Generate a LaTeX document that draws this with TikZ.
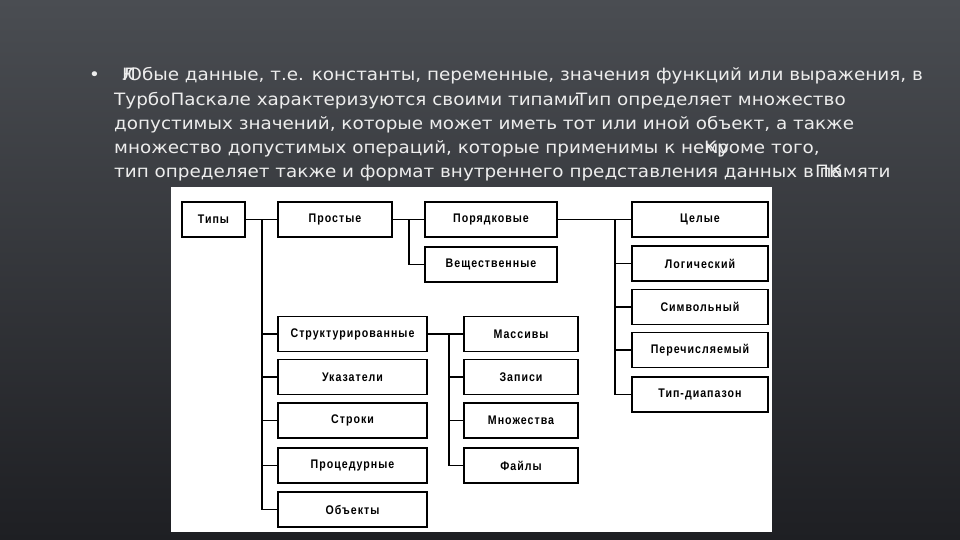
\documentclass[tikz,border=0pt]{standalone}
\usepackage{fontspec}
\usepackage{xcolor}
\usepackage{tikz}
\usetikzlibrary{positioning}
\newfontfamily\slidefont{DejaVu Sans}[FakeStretch=1.08]
\newfontfamily\boxfont{Liberation Sans}[FakeStretch=0.85,LetterSpace=8]
\definecolor{slidetop}{HTML}{4A4D52}
\definecolor{slidemid}{HTML}{33353A}
\definecolor{slidebot}{HTML}{1E1F23}
\definecolor{slidetext}{HTML}{EDEDED}

\begin{document}
\begin{tikzpicture}[
  x=1pt, y=-1pt,
  typebox/.style={draw=black, line width=1.3pt, fill=white, inner sep=0pt,
                  minimum height=35pt, font=\boxfont\bfseries\fontsize{12.5}{14}\selectfont},
  conn/.style={draw=black, line width=1.3pt},
  textline/.style={anchor=base west, inner sep=0pt, text=slidetext,
                   font=\slidefont\fontsize{17}{20}\selectfont}
]
\useasboundingbox (0,0) rectangle (960,540);
\shade[top color=slidetop, middle color=slidemid, bottom color=slidebot] (0,0) rectangle (960,540);

% slide text
\node[textline] (bul) at (89,81) {•};
\node[textline] (l1) at (122,81) {\rlap{Л}Юбые данные, т.е. константы, переменные, значения функций или выражения, в};
\node[textline] (l2) at (114,105.5) {ТурбоПаскале характеризуются своими типами};
\node[textline] (l2b) at (576,105.5) {Тип определяет множество};
\node[textline] (l3) at (114,130) {допустимых значений, которые может иметь тот или иной объект, а также};
\node[textline] (l4) at (114,154) {множество допустимых операций, которые применимы к нему};
\node[textline] (l4b) at (704,154) {Кроме того,};
\node[textline] (l5) at (114,178) {тип определяет также и формат внутреннего представления данных в памяти};
\node[textline] (l5b) at (815,178) {ПК};

% white panel
\fill[white] (171,187) rectangle (772,532);

% boxes
\node[typebox, minimum width=63pt] (tipy) at (213.5,219.5) {Типы};
\node[typebox, minimum width=114pt] (prost) at (335,219.5) {Простые};
\node[typebox, minimum width=132pt] (poryad) at (491,219.5) {Порядковые};
\node[typebox, minimum width=132pt] (vesch) at (491,264.5) {Вещественные};
\node[typebox, minimum width=136pt] (celye) at (700,219.5) {Целые};
\node[typebox, minimum width=136pt] (logich) at (700,263.5) {Логический};
\node[typebox, minimum width=136pt] (simv) at (700,307) {Символьный};
\node[typebox, minimum width=136pt] (perech) at (700,350) {Перечисляемый};
\node[typebox, minimum width=136pt] (diap) at (700,394.5) {Тип-диапазон};
\node[typebox, minimum width=149pt] (strukt) at (352.5,334) {Структурированные};
\node[typebox, minimum width=149pt] (ukaz) at (352.5,377) {Указатели};
\node[typebox, minimum width=149pt] (stroki) at (352.5,420.5) {Строки};
\node[typebox, minimum width=149pt] (proc) at (352.5,465.5) {Процедурные};
\node[typebox, minimum width=149pt] (obj) at (352.5,509.5) {Объекты};
\node[typebox, minimum width=114pt] (massiv) at (521,334) {Массивы};
\node[typebox, minimum width=114pt] (zapisi) at (521,377) {Записи};
\node[typebox, minimum width=114pt] (mnozh) at (521,420.5) {Множества};
\node[typebox, minimum width=114pt] (faily) at (521,465.5) {Файлы};

% branch points
\coordinate (brtipy) at (262,219.5);
\coordinate (brprost) at (409,219.5);
\coordinate (brporyad) at (615,219.5);
\coordinate (brstrukt) at (449,334);

\draw[conn] (tipy) -- (prost);
\draw[conn] (prost) -- (poryad);
\draw[conn] (poryad) -- (celye);
\draw[conn] (strukt) -- (massiv);
\foreach \n in {strukt,ukaz,stroki,proc,obj}
  \draw[conn] (brtipy) |- (\n.west);
\draw[conn] (brprost) |- (vesch.west);
\foreach \n in {logich,simv,perech,diap}
  \draw[conn] (brporyad) |- (\n.west);
\foreach \n in {zapisi,mnozh,faily}
  \draw[conn] (brstrukt) |- (\n.west);
\end{tikzpicture}
\end{document}
